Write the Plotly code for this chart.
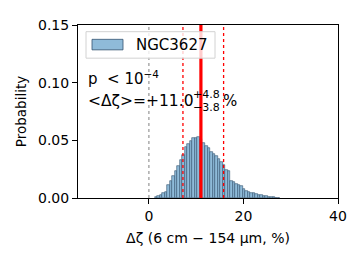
import plotly.graph_objects as go

# Histogram data (bin centers, probability per bin)
bin_start = 1.53
bin_width = 0.53
probabilities = [0.0011, 0.0017, 0.0025, 0.0047, 0.0052, 0.0116, 0.0144, 0.019, 0.023, 0.028,
                 0.033, 0.0376, 0.0445, 0.047, 0.049, 0.0517, 0.052, 0.053, 0.051, 0.0475,
                 0.045, 0.043, 0.040, 0.038, 0.036, 0.034, 0.0315, 0.029, 0.024, 0.023,
                 0.0144, 0.0135, 0.012, 0.0113, 0.010, 0.008, 0.006, 0.0052, 0.0047, 0.0044,
                 0.0039, 0.003, 0.0025, 0.0019, 0.0014, 0.0011, 0.0008, 0.0006, 0.0004, 0.0003]
bin_centers = [bin_start + i * bin_width for i in range(len(probabilities))]

median = 11.0
err_plus = 4.8
err_minus = 3.8
zero_line = 0.0

x_ticks = [0, 20, 40]
y_ticks = [0.0, 0.05, 0.10, 0.15]
y_tick_labels = ["0.00", "0.05", "0.10", "0.15"]
legend_label = "NGC3627"

FONT = "DejaVu Sans"

fig = go.Figure()
fig.add_trace(go.Bar(
    x=bin_centers, y=probabilities, width=bin_width,
    marker=dict(color="rgb(143,187,217)", line=dict(color="rgb(50,80,110)", width=0.6)),
    showlegend=False,
))

# vertical lines
fig.add_shape(type="line", x0=zero_line, x1=zero_line, y0=0, y1=0.15, xref="x", yref="y",
              line=dict(color="gray", width=1, dash="dot"), layer="above")
for v in [median - err_minus, median + err_plus]:
    fig.add_shape(type="line", x0=v, x1=v, y0=0, y1=0.15, xref="x", yref="y",
                  line=dict(color="red", width=1.3, dash="dot"), layer="above")
fig.add_shape(type="line", x0=median, x1=median, y0=0, y1=0.15, xref="x", yref="y",
              line=dict(color="red", width=3.2), layer="above")

# page has an 8px body margin: plot area spans x 78..338, y 17..198 in the window
W, H = 260.0, 181.0
def px(x):
    return (x - 78) / W
def py(y):
    return 1 - (y - 17) / H

# manual legend (matplotlib style)
fig.add_shape(type="rect", xref="paper", yref="paper", x0=px(86), x1=px(215), y0=py(51.7), y1=py(24),
              line=dict(color="rgb(210,210,210)", width=1), fillcolor="rgba(255,255,255,0.8)", layer="above")
fig.add_shape(type="rect", xref="paper", yref="paper", x0=px(92), x1=px(123), y0=py(43), y1=py(32),
              line=dict(color="rgb(50,80,110)", width=0.8), fillcolor="rgb(143,187,217)", layer="above")
fig.add_annotation(text=legend_label, xref="paper", yref="paper", x=px(134), y=py(37.5),
                   xanchor="left", yanchor="middle", showarrow=False,
                   font=dict(family=FONT, size=15, color="black"))

# text annotations
fig.add_annotation(text="p  &lt; 10<sup>−4</sup>", xref="paper", yref="paper", x=px(86), y=py(72),
                   xanchor="left", yanchor="middle", showarrow=False,
                   font=dict(family=FONT, size=15, color="black"))
fig.add_annotation(text="&lt;Δζ&gt;=+%.1f" % median, xref="paper", yref="paper", x=px(86), y=py(96),
                   xanchor="left", yanchor="middle", showarrow=False,
                   font=dict(family=FONT, size=15.5, color="black"))
fig.add_annotation(text="+%.1f" % err_plus, xref="paper", yref="paper", x=px(191), y=py(90),
                   xanchor="left", yanchor="middle", showarrow=False,
                   font=dict(family=FONT, size=11, color="black"))
fig.add_annotation(text="−%.1f" % err_minus, xref="paper", yref="paper", x=px(191), y=py(103.5),
                   xanchor="left", yanchor="middle", showarrow=False,
                   font=dict(family=FONT, size=11, color="black"))
fig.add_annotation(text="%", xref="paper", yref="paper", x=px(221), y=py(96.5),
                   xanchor="left", yanchor="middle", showarrow=False,
                   font=dict(family=FONT, size=15, color="black"))

fig.update_layout(
    width=351, height=250,
    margin=dict(l=70, r=21, t=9, b=60),
    paper_bgcolor="white", plot_bgcolor="white",
    bargap=0,
    font=dict(family=FONT, size=14, color="black"),
    xaxis=dict(range=[-15, 40], tickvals=x_ticks, ticks="outside", ticklen=5, tickcolor="black",
               showline=True, linecolor="black", linewidth=1, mirror=True, showgrid=False,
               zeroline=False,
               title=dict(text="Δζ (6 cm − 154 μm, %)", font=dict(size=14), standoff=10)),
    yaxis=dict(range=[0, 0.15], tickvals=y_ticks, ticktext=y_tick_labels, ticks="outside",
               ticklen=5, tickcolor="black",
               showline=True, linecolor="black", linewidth=1, mirror=True, showgrid=False,
               zeroline=False,
               title=dict(text="Probability", font=dict(size=13.5), standoff=8)),
)

fig.write_html("out.html")
